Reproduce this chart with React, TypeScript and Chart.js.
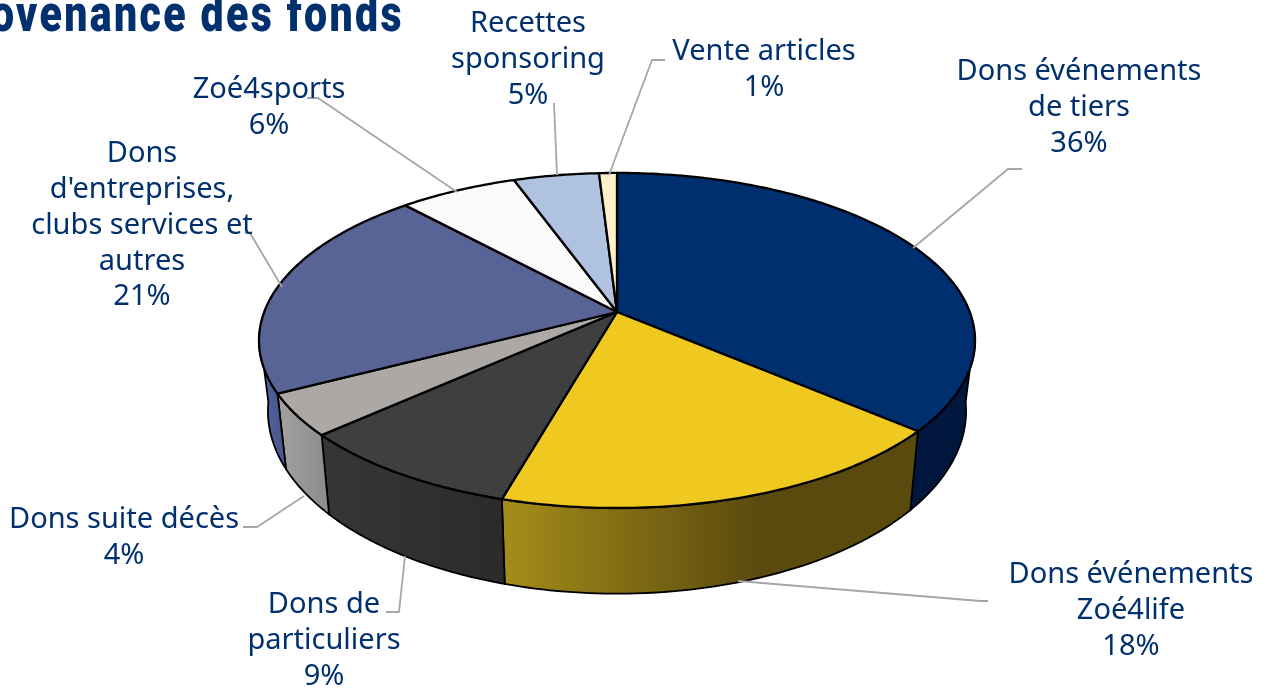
import React, { useEffect, useRef } from "react";
import { Chart, registerables } from "chart.js";

Chart.register(...registerables);

const categories = [
  ["Dons événements", "de tiers"],
  ["Dons événements", "Zoé4life"],
  ["Dons de", "particuliers"],
  ["Dons suite décès"],
  ["Dons", "d'entreprises,", "clubs services et", "autres"],
  ["Zoé4sports"],
  ["Recettes", "sponsoring"],
  ["Vente articles"],
];
const shares = [36.3, 18.1, 8.9, 4.05, 20.85, 6.3, 4.55, 0.95];
const topColors = ["#002f6f", "#efc820", "#3f3f3f", "#aca8a6", "#586396", "#fbfbfb", "#afc3e0", "#fdf0c8"];
const wallFrom = ["#00163c", "#a58c1a", "#363636", "#a3a2a1", "#55649a", "#fff", "#fff", "#fff"];
const wallTo = ["#00173f", "#5a4a0e", "#2b2b2b", "#8f8e8d", "#4a5a90", "#fff", "#fff", "#fff"];
const titleText = "Provenance des fonds";

// presentation layout, separate from the data
const labelAnchors = [
  [1079, 72], [1131, 575], [324, 605], [124, 520], [142, 154], [269, 90], [528, 24], [764, 52],
];
const leaders = [
  [[1022, 169], [1008, 169], [913, 248]],
  [[988, 601], [980, 601], [738, 581]],
  [[386, 612], [399, 612], [405, 556]],
  [[243, 527], [257, 527], [304, 496]],
  [[245, 233], [250, 233], [282, 287]],
  [[307, 98], [318, 98], [457, 192]],
  [[554, 103], [557, 175]],
  [[665, 60], [652, 60], [609, 175]],
];
const TEXT = "#00306e";
const CX = 617, CY = 312, R = 352.8, B = 162.7, K = 0.17;

function topPt(t: number) {
  const u = Math.sin(t), v = -Math.cos(t), d = 1 - K * v;
  return [(R * u) / d, (B * v) / d];
}
const top = (t: number) => { const p = topPt(t); return [CX + p[0], CY + p[1]]; };
const bottom = (t: number) => { const p = topPt(t); return [CX + 0.975 * p[0], CY + 68 + 1.09 * p[1]]; };

const rad = (d: number) => (d * Math.PI) / 180;

const pie3d = {
  id: "pie3d",
  beforeDatasetDraw() { return false; },
  afterDatasetsDraw(chart: any) {
    const ctx = chart.ctx;
    const arcs = chart.getDatasetMeta(0).data;
    const vals = chart.data.datasets[0].data as number[];
    const total = vals.reduce((a, b) => a + b, 0);
    const spans = arcs.map((a: any) => [a.startAngle + Math.PI / 2, a.endAngle + Math.PI / 2]);
    ctx.save();
    ctx.lineJoin = "round";

    // side walls
    const vis0 = rad(97), vis1 = rad(263);
    spans.forEach(([s, e]: number[], i: number) => {
      const a = Math.max(s, vis0), b = Math.min(e, vis1);
      if (b <= a) return;
      const n = 60;
      ctx.beginPath();
      for (let k = 0; k <= n; k++) {
        const p = top(a + ((b - a) * k) / n);
        k ? ctx.lineTo(p[0], p[1]) : ctx.moveTo(p[0], p[1]);
      }
      for (let k = n; k >= 0; k--) {
        const p = bottom(a + ((b - a) * k) / n);
        ctx.lineTo(p[0], p[1]);
      }
      ctx.closePath();
      const xs = [top(a)[0], top(b)[0]];
      const g = ctx.createLinearGradient(Math.max(...xs), 0, Math.min(...xs), 0);
      g.addColorStop(0, wallTo[i]);
      if (i === 1) g.addColorStop(0.38, wallTo[i]);
      g.addColorStop(1, wallFrom[i]);
      ctx.fillStyle = g;
      ctx.fill();
      ctx.strokeStyle = "#000";
      ctx.lineWidth = 1.8;
      ctx.stroke();
    });

    // top faces
    spans.forEach(([s, e]: number[], i: number) => {
      ctx.beginPath();
      ctx.moveTo(CX, CY);
      const n = Math.max(8, Math.ceil((e - s) * 60));
      for (let k = 0; k <= n; k++) {
        const p = top(s + ((e - s) * k) / n);
        ctx.lineTo(p[0], p[1]);
      }
      ctx.closePath();
      ctx.fillStyle = topColors[i];
      ctx.fill();
      ctx.strokeStyle = "#000";
      ctx.lineWidth = 2.3;
      ctx.stroke();
    });

    // leader lines
    ctx.strokeStyle = "#a6a6a6";
    ctx.lineWidth = 1.8;
    leaders.forEach((pts) => {
      ctx.beginPath();
      pts.forEach((p, k) => (k ? ctx.lineTo(p[0], p[1]) : ctx.moveTo(p[0], p[1])));
      ctx.stroke();
    });

    // labels
    ctx.fillStyle = TEXT;
    ctx.font = "29px 'Noto Sans'";
    ctx.textAlign = "center";
    ctx.textBaseline = "middle";
    (chart.data.labels as string[][]).forEach((lines, i) => {
      const all = [...lines, `${Math.round((vals[i] / total) * 100)}%`];
      all.forEach((t, k) => ctx.fillText(t, labelAnchors[i][0], labelAnchors[i][1] + k * 35.8));
    });

    // title, cropped by the page edge
    ctx.save();
    ctx.translate(404, 31);
    ctx.scale(0.79, 1);
    ctx.font = "900 52px Roboto";
    ctx.textAlign = "right";
    ctx.textBaseline = "alphabetic";
    ctx.letterSpacing = "3px";
    ctx.fillText(titleText, 0, 0);
    ctx.restore();
    ctx.restore();
  },
};

export default function App() {
  const ref = useRef<HTMLCanvasElement>(null);
  useEffect(() => {
    const chart = new Chart(ref.current!, {
      type: "pie",
      data: {
        labels: categories as any,
        datasets: [{ data: shares, backgroundColor: topColors }],
      },
      options: {
        responsive: false,
        animation: false,
        plugins: { legend: { display: false }, tooltip: { enabled: false }, title: { display: false } },
      },
      plugins: [pie3d as any],
    });
    return () => chart.destroy();
  }, []);
  return (
    <canvas
      ref={ref}
      width={1271}
      height={688}
      style={{ position: "fixed", left: 0, top: 0, width: 1271, height: 688, display: "block", background: "#fff" }}
    />
  );
}
